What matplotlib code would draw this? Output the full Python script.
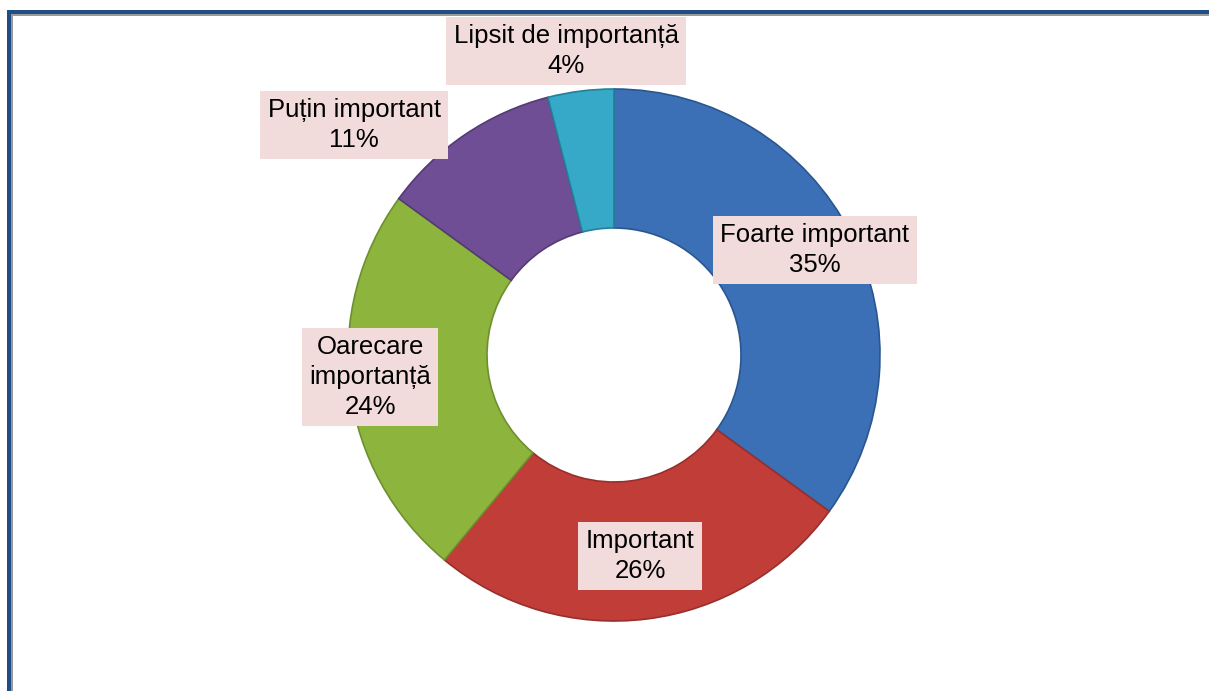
import matplotlib
matplotlib.use("Agg")
import matplotlib.pyplot as plt
from matplotlib.patches import Rectangle

categories = ["Foarte important", "Important", "Oarecare\nimportanță", "Puțin important", "Lipsit de importanță"]
values = [35, 26, 24, 11, 4]
colors = ["#3C70B6", "#C13D38", "#8DB53E", "#6F4E95", "#35A9C7"]
edge_colors = ["#2A5690", "#97302C", "#6E8F2E", "#553A75", "#247F98"]

W, H = 1209, 691
fig = plt.figure(figsize=(W / 100, H / 100), dpi=100)
fig.patch.set_facecolor("white")
ax = fig.add_axes([0, 0, 1, 1])

cx, cy, R = 614, H - 355, 266
hole = 127 / R

wedges, _ = ax.pie(values, colors=colors, startangle=90, counterclock=False,
                   center=(cx, cy), radius=R,
                   wedgeprops=dict(width=R * (1 - hole), linewidth=1.2))
for w, ec in zip(wedges, edge_colors):
    w.set_edgecolor(ec)

ax.set_xlim(0, W)
ax.set_ylim(0, H)
ax.set_aspect("equal")
ax.axis("off")

# label centres in pixel coordinates (x, y from top)
label_px = [(815, 250), (640, 556), (370, 377), (354, 125), (566, 51)]
for cat, val, (px, py) in zip(categories, values, label_px):
    ax.text(px, H - py, f"{cat}\n{val}%", ha="center", va="center",
            fontsize=18.5, family=["Liberation Sans", "DejaVu Sans"],
            color="black", linespacing=1.33,
            bbox=dict(boxstyle="square,pad=0.28", facecolor="#F2DCDB",
                      edgecolor="none"))

# frame (top and left edges)
fig.add_artist(Rectangle((7 / W, 1 - 14 / H), 1, 4 / H, transform=fig.transFigure,
                         facecolor="#1F4E86", edgecolor="none"))
fig.add_artist(Rectangle((11 / W, 1 - 16 / H), 1, 2 / H, transform=fig.transFigure,
                         facecolor="#9A9A9A", edgecolor="none"))
fig.add_artist(Rectangle((7 / W, 0), 4 / W, 1 - 10 / H, transform=fig.transFigure,
                         facecolor="#1F4E86", edgecolor="none"))
fig.add_artist(Rectangle((11 / W, 0), 2 / W, 1 - 14 / H, transform=fig.transFigure,
                         facecolor="#9A9A9A", edgecolor="none"))

fig.savefig("out.png", dpi=100, facecolor="white")
